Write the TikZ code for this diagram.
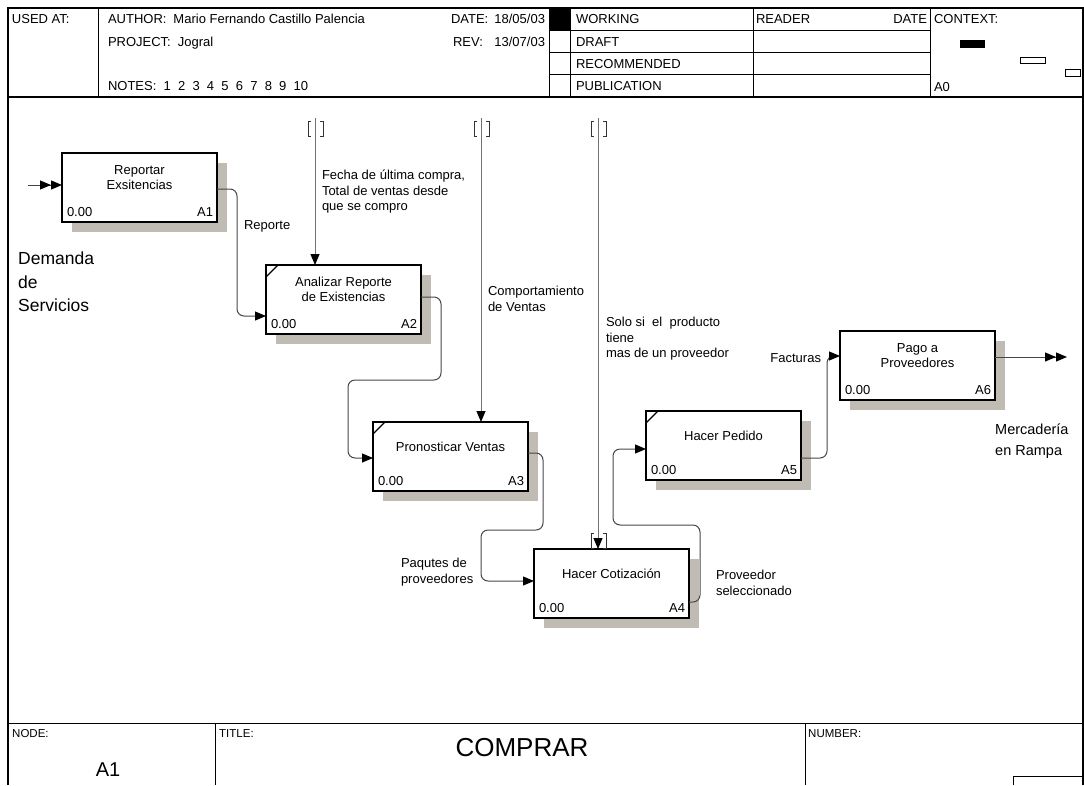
\documentclass[tikz,border=0pt]{standalone}
\usepackage{fontspec}
\setmainfont{Liberation Sans}
\usetikzlibrary{arrows.meta,calc,shadows}

\definecolor{shadowgray}{RGB}{192,188,180}
\definecolor{linegray}{RGB}{70,70,70}

\tikzset{
  frame/.style={line width=1pt, black},
  txt/.style={font=\fontsize{13}{15.5}\selectfont, inner sep=0pt, outer sep=0pt},
  smalltxt/.style={font=\fontsize{11.5}{13}\selectfont, inner sep=0pt},
  bigtxt/.style={font=\fontsize{17.5}{23.5}\selectfont, inner sep=0pt, align=left},
  abox/.style={draw, line width=1.8pt, fill=white, minimum width=155pt,
    minimum height=69pt, inner sep=0pt, outer sep=0pt,
    drop shadow={shadow xshift=10pt, shadow yshift=-10pt, opacity=1, fill=shadowgray}},
  conn/.style={draw=linegray, line width=1pt, rounded corners=7pt},
  tunnelline/.style={draw=black!55, line width=1pt},
  arrowend/.style={-{Triangle[length=11pt,width=9pt,color=black]}},
  dblend/.style={-{Triangle[length=11pt,width=9pt,color=black]Triangle[length=11pt,width=9pt,color=black]}},
  tbrackets/.pic={
    \draw[line width=1pt, black!80] (-4,0) -- (-7,0) -- (-7,15) -- (-4,15);
    \draw[line width=1pt, black!80] (5,0) -- (8,0) -- (8,15) -- (5,15);
  }
}

% title, node number and cost of an activity box
\newcommand\boxlabels[3]{%
  \node[txt, align=center] (#1-title) at ($(#1.north)+(0,24.5)$) {#2};
  \node[txt, anchor=base west] (#1-cost) at ($(#1.south west)+(5,-5.5)$) {0.00};
  \node[txt, anchor=base east] (#1-num) at ($(#1.south east)+(-4,-5.5)$) {#3};
}
\newcommand\cornertick[1]{%
  \draw[line width=1.2pt] ($(#1.north west)+(0,12)$) -- ($(#1.north west)+(12,0)$);
}

\begin{document}
\begin{tikzpicture}[x=1pt, y=-1pt]
\useasboundingbox (0,0) rectangle (1084,785);

% ---------- outer frame and header grid ----------
\draw[line width=1.3pt] (8,785) -- (8,8) -- (1083,8) -- (1083,785);
\draw[line width=1.3pt] (8,97) -- (1083,97);
\draw[frame] (98,8) -- (98,97);
\draw[frame] (549,8) -- (549,97);
\fill[black] (549,8) rectangle (570,30);
\draw[frame] (570,8) -- (570,97);
\draw[frame] (753,8) -- (753,97);
\draw[frame] (930,8) -- (930,97);
\draw[frame] (549,30) -- (930,30);
\draw[frame] (549,52) -- (930,52);
\draw[frame] (549,74) -- (930,74);

\node[txt, anchor=base west] (usedat) at (12,23) {USED AT:};
\node[txt, anchor=base west] (author) at (108,23) {AUTHOR:\hspace{7pt}Mario Fernando Castillo Palencia};
\node[txt, anchor=base west] (project) at (108,46) {PROJECT:\hspace{7pt}Jogral};
\node[txt, anchor=base west] (notes) at (108,90) {NOTES:\ \ 1\ \ 2\ \ 3\ \ 4\ \ 5\ \ 6\ \ 7\ \ 8\ \ 9\ \ 10};
\node[txt, anchor=base west] (datelbl) at (451,23) {DATE:};
\node[txt, anchor=base east] (dateval) at (545,23) {18/05/03};
\node[txt, anchor=base west] (revlbl) at (453,46) {REV:};
\node[txt, anchor=base east] (revval) at (545,46) {13/07/03};
\node[txt, anchor=base west] (working) at (576,23) {WORKING};
\node[txt, anchor=base west] (draft) at (576,46) {DRAFT};
\node[txt, anchor=base west] (recommended) at (576,68) {RECOMMENDED};
\node[txt, anchor=base west] (publication) at (576,90) {PUBLICATION};
\node[txt, anchor=base west] (reader) at (756,23) {READER};
\node[txt, anchor=base east] (readerdate) at (927,23) {DATE};
\node[txt, anchor=base west] (context) at (934,23) {CONTEXT:};
\node[txt, anchor=base west] (ctxnode) at (934,91) {A0};

% context thumbnail
\fill[black] (960,40) rectangle (985,48);
\draw[line width=0.8pt] (1020,57) rectangle (1045,63);
\draw[line width=0.8pt] (1065,69) rectangle (1080,76);

% ---------- footer ----------
\draw[frame] (8,723) -- (1083,723);
\draw[frame] (215,723) -- (215,785);
\draw[frame] (805,723) -- (805,785);
\draw[frame] (1013,785) -- (1013,776) -- (1083,776);
\node[smalltxt, anchor=base west] (nodelbl) at (12,737) {NODE:};
\node[smalltxt, anchor=base west] (titlelbl) at (219,737) {TITLE:};
\node[smalltxt, anchor=base west] (numberlbl) at (808,737) {NUMBER:};
\node[inner sep=0pt, font=\fontsize{20}{24}\selectfont, anchor=base] (nodeval) at (108,776) {A1};
\node[inner sep=0pt, font=\fontsize{26}{30}\selectfont, anchor=base] (titleval) at (522,756) {COMPRAR};

% ---------- activity boxes ----------
\node[abox] (A1) at (139.5,187.5) {};
\node[abox] (A2) at (343.5,299.5) {};
\node[abox] (A3) at (450.5,456.5) {};
\node[abox] (A4) at (611.5,583.5) {};
\node[abox] (A5) at (723.5,445.5) {};
\node[abox] (A6) at (917.5,365.5) {};

\boxlabels{A1}{Reportar\\Exsitencias}{A1}
\boxlabels{A2}{Analizar Reporte\\de Existencias}{A2}
\boxlabels{A3}{Pronosticar Ventas}{A3}
\boxlabels{A4}{Hacer Cotización}{A4}
\boxlabels{A5}{Hacer Pedido}{A5}
\boxlabels{A6}{Pago a\\Proveedores}{A6}
\cornertick{A2}
\cornertick{A3}
\cornertick{A5}

% ---------- arrows ----------
\coordinate (in1) at (28,185);
\draw[conn, dblend] (in1) -- ($(A1.west)+(0,-2.5)$);

\draw[conn, arrowend] ($(A1.east)+(0,1.5)$) -| (237,316) -- ($(A2.west)+(0,16.5)$);
\draw[conn, arrowend] ($(A2.east)+(0,-2.5)$) -| (441,380) -| (348,458) -- ($(A3.west)+(0,1.5)$);
\draw[conn, arrowend] ($(A3.east)+(0,-3.5)$) -| (543,530) -| (481,581) -- ($(A4.west)+(0,-2.5)$);
\draw[conn, arrowend] ($(A4.east)+(0,18.5)$) -| (700,525) -| (613,449) -- ($(A5.west)+(0,3.5)$);
\draw[conn, arrowend] ($(A5.east)+(0,12.5)$) -| (827,356) -- ($(A6.west)+(0,-9.5)$);

\coordinate (out6) at (1067,357);
\draw[conn, dblend] ($(A6.east)+(0,-8.5)$) -- (out6);

% tunnelled controls
\coordinate (t1) at (315,118);
\coordinate (t2) at (481,118);
\coordinate (t3) at (598,118);
\draw[tunnelline, arrowend] (t1) -- (t1 |- A2.north);
\draw[tunnelline, arrowend] (t2) -- (t2 |- A3.north);
\draw[tunnelline, arrowend] (t3) -- (t3 |- A4.north);
\pic at ($(t1)+(0,3)$) {tbrackets};
\pic at ($(t2)+(0,3)$) {tbrackets};
\pic at ($(t3)+(0,3)$) {tbrackets};
\pic at ($(t3 |- A4.north)+(0,-16)$) {tbrackets};

% ---------- arrow labels ----------
\node[bigtxt, anchor=west] (demanda) at (18,282) {Demanda\\de\\Servicios};
\node[inner sep=0pt, font=\fontsize{14.5}{21}\selectfont, align=left, anchor=west] (mercaderia) at (995,441) {Mercadería\\en Rampa};
\node[txt, anchor=west] (lreporte) at (244,226) {Reporte};
\node[txt, align=left, anchor=west] (lfecha) at (322,192) {Fecha de última compra,\\Total de ventas desde\\que se compro};
\node[txt, align=left, anchor=west] (lcomp) at (488,299) {Comportamiento\\de Ventas};
\node[txt, align=left, anchor=west] (lsolo) at (606,339) {Solo si\ \ el\ \ producto\\tiene\\mas de un proveedor};
\node[txt, anchor=east] (lfact) at (821,358) {Facturas};
\node[txt, align=left, anchor=west] (lpaq) at (401,572) {Paqutes de\\proveedores};
\node[txt, align=left, anchor=west] (lprov) at (716,583) {Proveedor\\seleccionado};

\end{tikzpicture}
\end{document}
